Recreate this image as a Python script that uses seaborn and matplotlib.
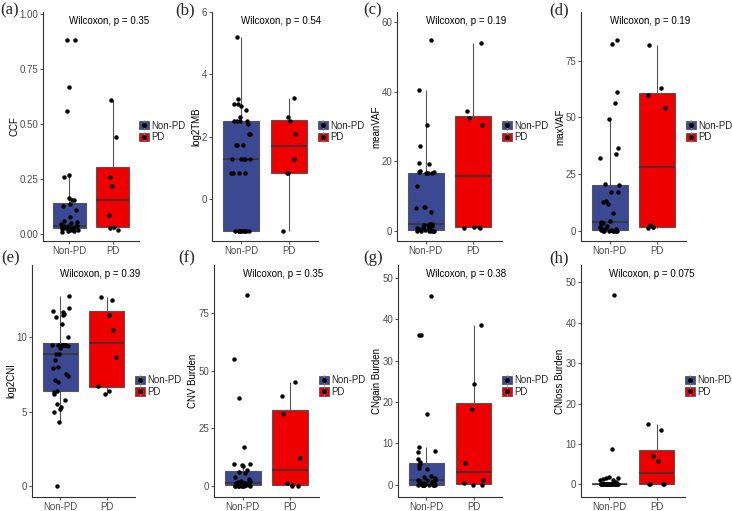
import numpy as np
import pandas as pd
import matplotlib
matplotlib.use("Agg")
import matplotlib.pyplot as plt
import seaborn as sns
from matplotlib.patches import Patch
from matplotlib.lines import Line2D

# ==============================================================================
# 8 boxplots, Non-PD vs PD
# ==============================================================================

groups = ["Non-PD", "PD"]
colors = {"Non-PD": "#3B4992", "PD": "#EE0000"}

ccf_nonpd = [0.01, 0.015, 0.015, 0.02, 0.02, 0.02, 0.025, 0.025, 0.03, 0.03, 0.03, 0.03,
             0.035, 0.035, 0.035, 0.04, 0.04, 0.04, 0.04, 0.045, 0.05, 0.055, 0.06, 0.08,
             0.11, 0.13, 0.14, 0.155, 0.155, 0.165, 0.26, 0.27, 0.56, 0.67, 0.88, 0.88]
ccf_pd = [0.02, 0.03, 0.035, 0.09, 0.22, 0.26, 0.44, 0.61]

tmb_nonpd = [-1, -1, -1, -1, -1, -1, -1, -1, -1, -1, 0.85, 0.85, 0.85, 0.85,
             1.3, 1.3, 1.3, 1.3, 1.3, 1.75, 1.75, 1.75, 2.1, 2.1, 2.4, 2.5, 2.5, 2.5, 2.5,
             2.65, 2.85, 3.0, 3.05, 3.05, 3.2, 5.2]
tmb_pd = [-1, 0.85, 0.85, 1.3, 2.1, 2.5, 2.65, 3.25]

meanvaf_nonpd = [0, 0, 0, 0, 0, 0, 0, 0.2, 0.3, 0.3, 0.5, 0.8, 1.0, 1.2, 1.5, 1.6, 1.8,
                 2.0, 2.0, 5.5, 6.6, 6.8, 7.0, 12.8, 16.5, 16.6, 16.7, 16.9, 17.0, 17.2,
                 19.2, 19.5, 24.5, 30.5, 40.5, 54.8]
meanvaf_pd = [1.0, 1.0, 1.2, 1.2, 30.5, 32.5, 34.5, 54.0]

maxvaf_nonpd = [0, 0, 0, 0, 0, 0, 0, 0.2, 0.3, 0.3, 0.5, 0.8, 1.0, 1.2, 1.5, 2.0, 3.0,
                3.5, 4.0, 4.2, 8.0, 12.0, 12.5, 13.0, 17.0, 17.0, 20.0, 20.5, 32.0, 34.0,
                36.5, 49.4, 56.5, 61.0, 82.5, 84.0]
maxvaf_pd = [1.3, 1.5, 1.5, 2.5, 54.0, 60.0, 63.0, 82.0]

cni_nonpd = [0.0, 4.3, 5.0, 5.2, 5.3, 5.5, 5.8, 6.2, 6.3, 6.4, 7.0, 7.1, 7.4, 7.5, 7.9,
             8.0, 8.5, 8.9, 8.9, 9.3, 9.4, 9.5, 9.5, 9.5, 9.5, 9.5, 9.5, 10.0, 10.9, 11.4,
             11.5, 11.6, 11.7, 11.8, 12.0, 12.8]
cni_pd = [6.2, 6.4, 6.7, 8.7, 10.5, 11.5, 12.5, 12.7]

cnv_nonpd = [0, 0, 0, 0, 0, 0, 0, 0, 0.3, 0.3, 0.5, 0.5, 0.8, 1.0, 1.0, 1.2, 1.3, 1.4,
             1.4, 1.6, 1.8, 2.0, 2.2, 3.0, 4.0, 5.5, 6.0, 7.0, 8.5, 9.0, 9.3, 9.5, 17.0,
             38.0, 55.0, 83.0]
cnv_pd = [0.0, 0.1, 0.2, 1.2, 12.2, 31.0, 39.0, 45.0]

cngain_nonpd = [0, 0, 0, 0, 0, 0, 0, 0, 0, 0, 0.2, 0.3, 0.3, 0.5, 0.5, 0.7, 0.8, 1.0,
                1.1, 1.2, 1.5, 1.8, 2.0, 3.8, 4.0, 4.8, 5.0, 5.5, 6.2, 7.8, 8.2, 9.2, 17.2,
                36.2, 36.3, 45.8]
cngain_pd = [0.0, 0.0, 0.3, 1.1, 5.2, 18.2, 24.3, 38.7]

cnloss_nonpd = [0, 0, 0, 0, 0, 0, 0, 0, 0, 0, 0, 0, 0, 0, 0, 0, 0, 0, 0, 0, 0, 0, 0, 0,
                0, 0, 0, 0.5, 1.0, 1.2, 1.3, 1.5, 1.7, 1.8, 8.8, 46.9]
cnloss_pd = [0.0, 0.0, 0.0, 0.0, 5.7, 7.0, 13.4, 14.9]

letters = ["(a)", "(b)", "(c)", "(d)", "(e)", "(f)", "(g)", "(h)"]
ylabels = ["CCF", "log2TMB", "meanVAF", "maxVAF", "log2CNI", "CNV Burden",
           "CNgain Burden", "CNloss Burden"]
pvalues = ["0.35", "0.54", "0.19", "0.19", "0.39", "0.35", "0.38", "0.075"]
nonpd_values = [ccf_nonpd, tmb_nonpd, meanvaf_nonpd, maxvaf_nonpd,
                cni_nonpd, cnv_nonpd, cngain_nonpd, cnloss_nonpd]
pd_values = [ccf_pd, tmb_pd, meanvaf_pd, maxvaf_pd, cni_pd, cnv_pd, cngain_pd, cnloss_pd]
yticks = [[0, 0.25, 0.5, 0.75, 1.0], [0, 2, 4, 6], [0, 20, 40, 60], [0, 25, 50, 75],
          [0, 5, 10], [0, 25, 50, 75], [0, 10, 20, 30, 40, 50], [0, 10, 20, 30, 40, 50]]

# layout (pixels): axes rect l, t, r, b ; y limits ; letter position
W, H = 732, 511
rects = [(43, 12, 139, 241), (212, 12, 318, 241), (397, 12, 502, 241), (581, 12, 686, 241),
         (32, 265, 135, 497), (214, 265, 319, 497), (398, 265, 502, 497), (581, 265, 685, 497)]
ylims = [(-0.030, 1.009), (-1.33, 5.99), (-2.87, 62.8), (-4.5, 96.5),
         (-0.76, 14.87), (-4.9, 96.0), (-3.0, 53.2), (-3.1, 54.3)]
letter_pos = [(0, 2), (175, 2), (363, 2), (549, 2), (1, 250), (178, 250), (363, 250), (549, 250)]

sns.set_theme(style="white")
plt.rcParams["font.family"] = ["Liberation Sans", "DejaVu Sans"]

fig = plt.figure(figsize=(W / 100, H / 100), dpi=100)
np.random.seed(7)

handles = [(Patch(facecolor=colors[g], edgecolor="#555555", linewidth=0.6),
            Line2D([], [], color="#777777", marker="|", ms=7, ls="None"),
            Line2D([], [], color="black", marker="o", ms=2.5, ls="None")) for g in groups]

for i in range(8):
    l, t, r, b = rects[i]
    ax = fig.add_axes([l / W, 1 - b / H, (r - l) / W, (b - t) / H])
    df = pd.DataFrame({
        "group": ["Non-PD"] * len(nonpd_values[i]) + ["PD"] * len(pd_values[i]),
        "value": list(nonpd_values[i]) + list(pd_values[i]),
    })
    sns.boxplot(data=df, x="group", y="value", hue="group", order=groups, hue_order=groups,
                palette=colors, saturation=1, width=0.75, showfliers=False, showcaps=False,
                linewidth=0.8, linecolor="#555555",
                medianprops={"color": "#333333", "linewidth": 1.1},
                legend=False, ax=ax)
    sns.stripplot(data=df, x="group", y="value", order=groups, color="black", size=3.2,
                  jitter=0.2, linewidth=0, ax=ax, zorder=3)

    ax.set_xlim(-0.6, 1.6)
    ax.set_ylim(*ylims[i])
    ax.set_yticks(yticks[i])
    if i == 0:
        ax.set_yticklabels([f"{v:.2f}" for v in yticks[i]])
    ax.set_xlabel("")
    ax.set_ylabel(ylabels[i], fontsize=7, color="black", labelpad=0)
    sns.despine(ax=ax)
    for side in ["left", "bottom"]:
        ax.spines[side].set_color("#333333")
        ax.spines[side].set_linewidth(0.8)
    ax.tick_params(labelsize=7, length=2, width=0.6, color="#333333",
                   labelcolor="#4D4D4D", pad=1.5, left=True, bottom=True)

    ax.text(0, 0.962, f"Wilcoxon, p = {pvalues[i]}", transform=ax.get_xaxis_transform(),
            ha="left", va="center", fontsize=7, color="black")

    ax.legend(handles, groups, loc="center left", bbox_to_anchor=(1.0, 0.478),
              frameon=False, fontsize=7, handlelength=1.0, handleheight=0.9,
              handletextpad=0.3, labelspacing=0.15, borderpad=0, borderaxespad=0)

    lx, ly = letter_pos[i]
    fig.text(lx / W, 1 - ly / H, letters[i], ha="left", va="top", fontsize=12,
             family=["Liberation Serif", "DejaVu Serif"])

fig.savefig("out.png", dpi=100)
